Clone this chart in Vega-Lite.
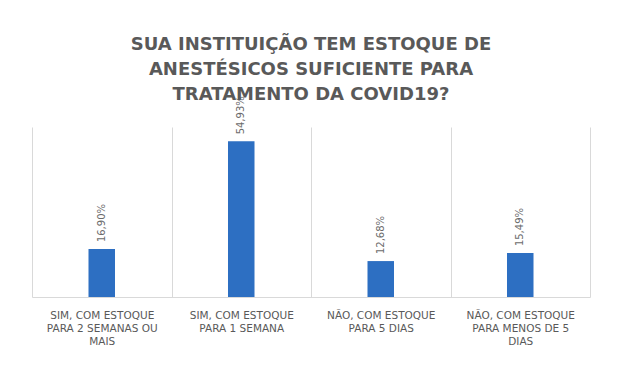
{
  "$schema": "https://vega.github.io/schema/vega-lite/v6.json",
  "width": 558,
  "height": 170,
  "autosize": "none",
  "padding": {"left": 32, "top": 127, "right": 36, "bottom": 78},
  "background": "white",
  "title": {
    "text": ["SUA INSTITUIÇÃO TEM ESTOQUE DE", "ANESTÉSICOS SUFICIENTE PARA", "TRATAMENTO DA COVID19?"],
    "font": "DejaVu Sans",
    "fontSize": 18,
    "fontWeight": "bold",
    "color": "#595959",
    "lineHeight": 25,
    "anchor": "middle",
    "offset": -8
  },
  "data": {
    "values": [
      {"categoria": "SIM, COM ESTOQUE|PARA 2 SEMANAS OU|MAIS", "valor": 16.90, "rotulo": "16,90%"},
      {"categoria": "SIM, COM ESTOQUE|PARA 1 SEMANA", "valor": 54.93, "rotulo": "54,93%"},
      {"categoria": "NÃO, COM ESTOQUE|PARA 5 DIAS", "valor": 12.68, "rotulo": "12,68%"},
      {"categoria": "NÃO, COM ESTOQUE|PARA MENOS DE 5|DIAS", "valor": 15.49, "rotulo": "15,49%"}
    ]
  },
  "encoding": {
    "x": {
      "field": "categoria",
      "type": "nominal",
      "sort": null,
      "scale": {"paddingInner": 0, "paddingOuter": 0},
      "axis": {
        "title": null,
        "labelAngle": 0,
        "labelExpr": "split(datum.label, '|')",
        "labelFont": "DejaVu Sans",
        "labelFontSize": 10.5,
        "labelColor": "#595959",
        "labelLineHeight": 13,
        "labelPadding": 18,
        "labelBaseline": "middle",
        "ticks": false,
        "grid": true,
        "tickBand": "extent",
        "gridColor": "#d9d9d9",
        "domainColor": "#d9d9d9",
        "labelLimit": 0
      }
    },
    "y": {
      "field": "valor",
      "type": "quantitative",
      "scale": {"domain": [0, 60]},
      "axis": null
    }
  },
  "layer": [
    {
      "mark": {"type": "bar", "color": "#2D6FC2", "width": {"band": 0.19}}
    },
    {
      "mark": {"type": "text", "angle": -90, "align": "left", "baseline": "middle", "dx": 7, "font": "DejaVu Sans", "fontSize": 10, "color": "#6b6b6b"},
      "encoding": {"text": {"field": "rotulo"}}
    }
  ],
  "config": {"view": {"stroke": null}}
}
